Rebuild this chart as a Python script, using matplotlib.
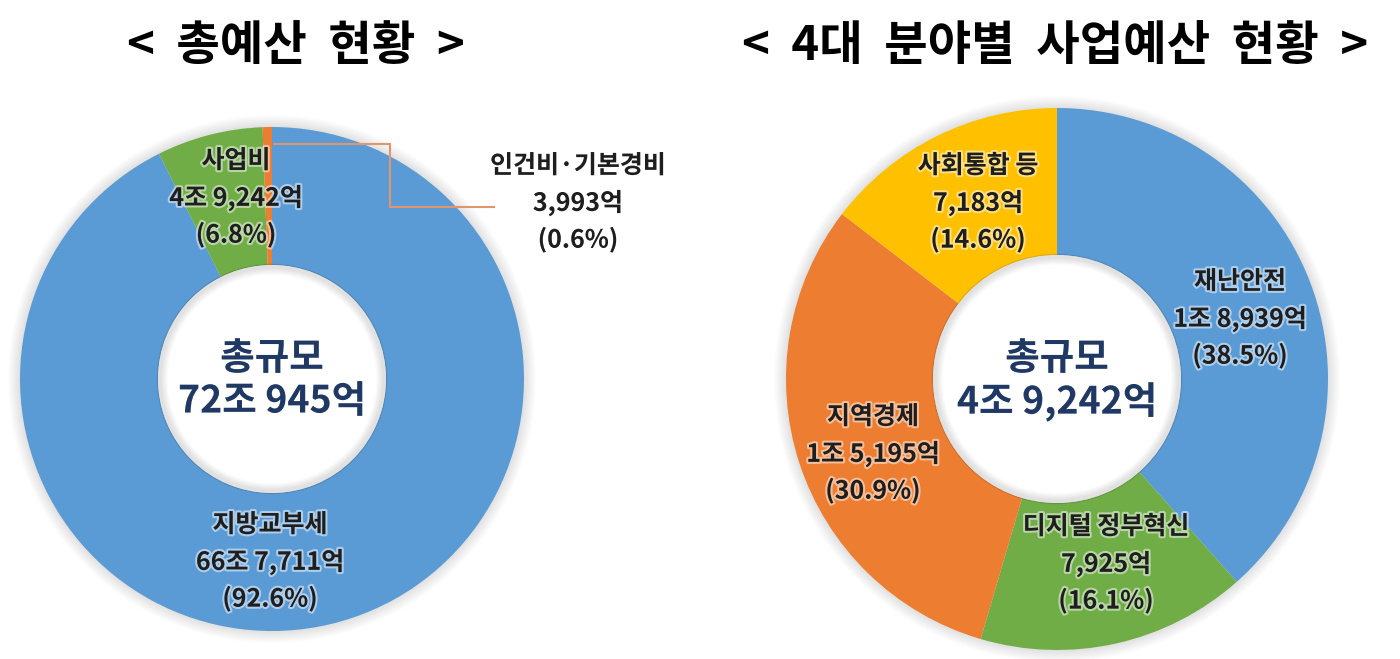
import matplotlib
matplotlib.use("Agg")
import matplotlib.pyplot as plt
import matplotlib.patheffects as pe
from matplotlib.patches import Circle

plt.rcParams['font.family'] = ['Noto Sans CJK KR', 'DejaVu Sans']

# ---------------- data ----------------
left_title = "<  총예산  현황  >"
left_names = ["지방교부세", "사업비", "인건비·기본경비"]
left_amounts = ["66조 7,711억", "4조 9,242억", "3,993억"]
left_pcts = [92.6, 6.8, 0.6]
left_center = ["총규모", "72조 945억"]

right_title = "<  4대  분야별  사업예산  현황  >"
right_names = ["재난안전", "디지털 정부혁신", "지역경제", "사회통합 등"]
right_amounts = ["1조 8,939억", "7,925억", "1조 5,195억", "7,183억"]
right_pcts = [38.5, 16.1, 30.9, 14.6]
right_center = ["총규모", "4조 9,242억"]

BLUE, GREEN, ORANGE, YELLOW = "#5B9BD5", "#70AD47", "#ED7D31", "#FFC000"
left_colors = [BLUE, GREEN, ORANGE]
right_colors = [BLUE, GREEN, ORANGE, YELLOW]

W, H = 1400, 659
fig = plt.figure(figsize=(W / 100, H / 100), dpi=100)
ax = fig.add_axes([0, 0, 1, 1])


def py(y):  # pixel-from-top -> data y
    return H - y


glow = [pe.withStroke(linewidth=3, foreground="white", alpha=0.5)]


def lines(x, y, texts, size, spacing, color, weight="bold"):
    for i, t in enumerate(texts):
        ax.text(x, py(y + i * spacing), t, ha="center", va="center",
                fontsize=size, fontweight=weight, color=color,
                path_effects=glow, zorder=10)


def donut(cx, cy, r, hole, vals, colors):
    # soft outer shadow
    for k in range(10):
        ax.add_patch(Circle((cx, py(cy)), r + 12 - k * 1.2, color="black",
                            alpha=0.012, lw=0, zorder=0.5))
    ax.pie(vals, colors=colors, startangle=90, counterclock=False,
           center=(cx, py(cy)), radius=r, frame=True,
           wedgeprops=dict(width=r - hole, linewidth=0, zorder=1))
    ax.add_patch(Circle((cx, py(cy)), hole, color="white", lw=0, zorder=2))
    # soft inner shadow
    for k in range(6):
        ax.add_patch(Circle((cx, py(cy)), hole - (8 - k) / 2.0, fill=False,
                            ec="black", alpha=0.02, lw=8 - k, zorder=3))


# left donut
LCX, LCY, LR, LH = 272, 379, 252, 114
donut(LCX, LCY, LR, LH, left_pcts, left_colors)
# right donut
RCX, RCY, RR, RH = 1057, 379, 271, 124
donut(RCX, RCY, RR, RH, right_pcts, right_colors)

ax.set_xlim(0, W)
ax.set_ylim(0, H)
ax.set_aspect("equal", adjustable="box")
ax.axis("off")

# titles
ax.text(296, py(46), left_title, ha="center", va="center", fontsize=34,
        fontweight="heavy", color="black")
ax.text(1055, py(46), right_title, ha="center", va="center", fontsize=34,
        fontweight="heavy", color="black")

TXT = "#1e1e1e"
NAVY = "#1F3864"
SP = 37
LS = 18


def lab(i, names, amounts, pcts):
    return [names[i], amounts[i], f"({pcts[i]}%)"]


# left labels
lines(270, 525, lab(0, left_names, left_amounts, left_pcts), LS, SP, TXT)
lines(236, 161, lab(1, left_names, left_amounts, left_pcts), LS, SP, TXT)
lines(578, 166, lab(2, left_names, left_amounts, left_pcts), LS, SP, TXT)
# leader line for tiny slice
ax.plot([274, 390, 390, 494], [py(144), py(144), py(207), py(207)],
        color="#E0956A", lw=1.5, zorder=9, solid_joinstyle="miter")

# centre texts
lines(LCX, 358, left_center, 27, 43, NAVY)
lines(RCX, 358, right_center, 27, 44, NAVY)

# right labels
lines(1240, 282, lab(0, right_names, right_amounts, right_pcts), LS, SP, TXT)
lines(1106, 527, lab(1, right_names, right_amounts, right_pcts), LS, SP, TXT)
lines(873, 417, lab(2, right_names, right_amounts, right_pcts), LS, SP, TXT)
lines(978, 166, lab(3, right_names, right_amounts, right_pcts), LS, SP, TXT)

fig.savefig("out.png", dpi=100, facecolor="white")
